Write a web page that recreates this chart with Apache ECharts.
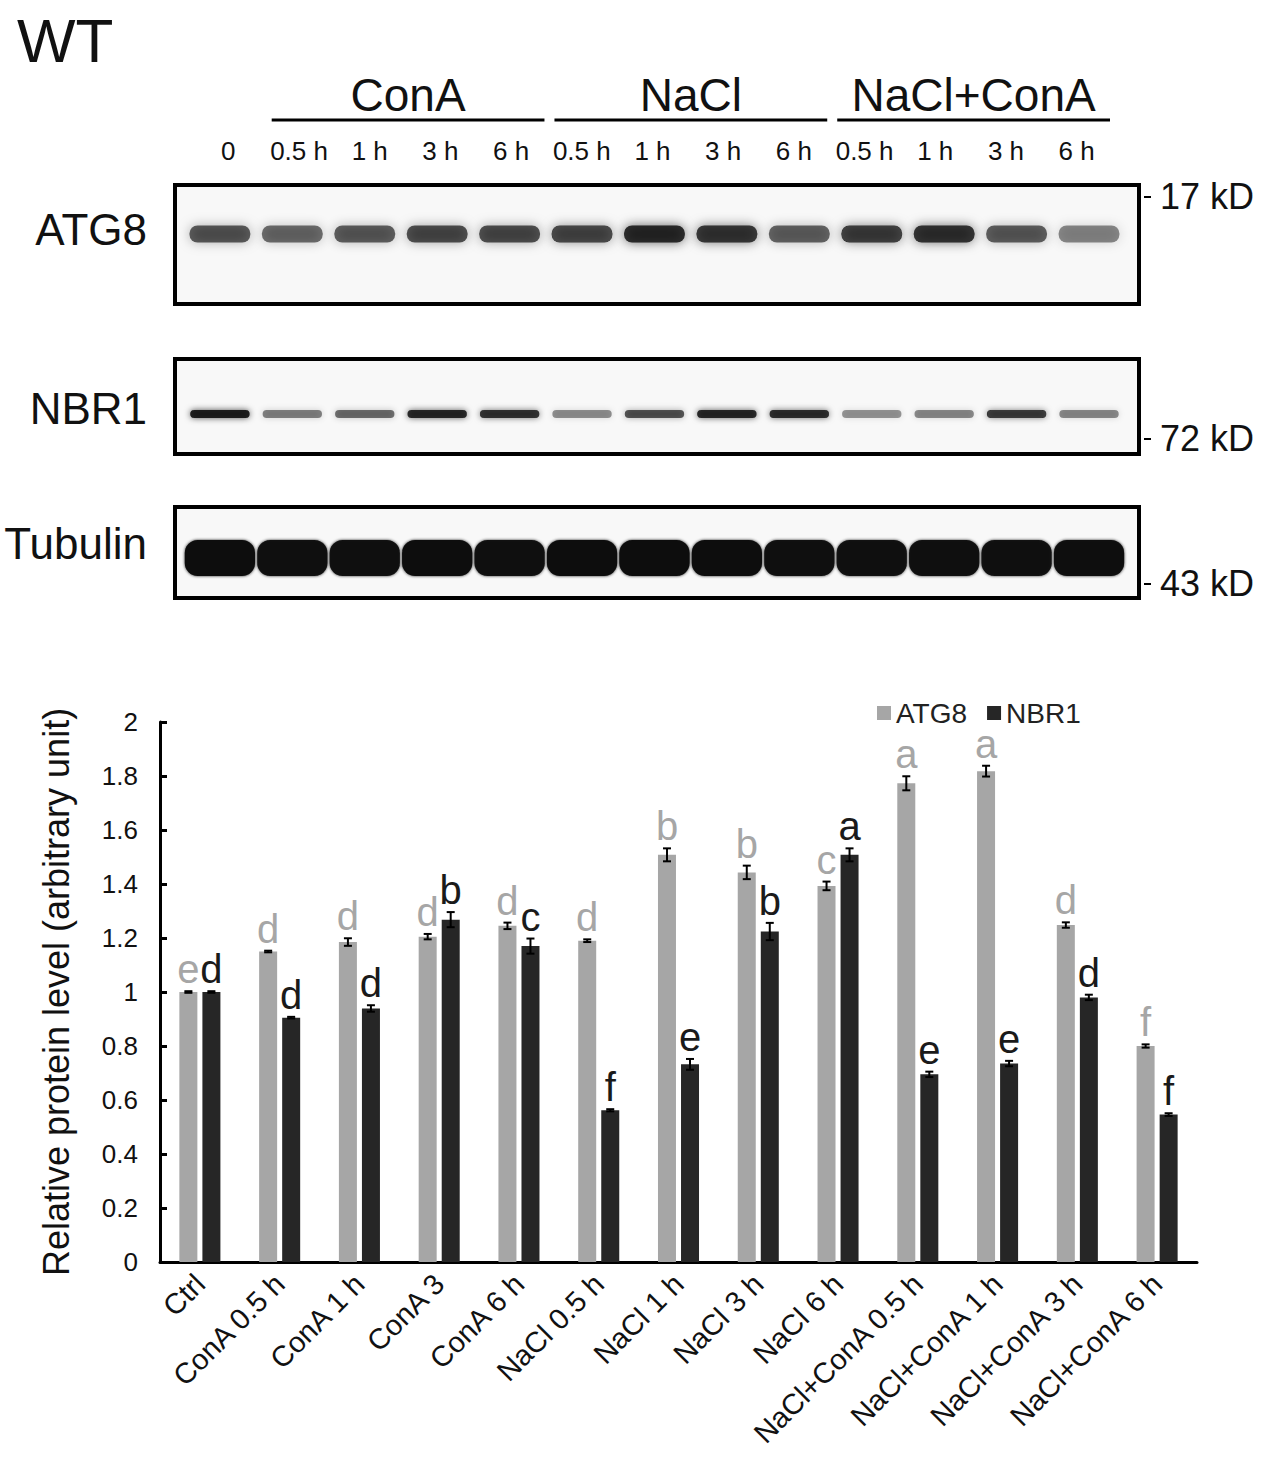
<!DOCTYPE html>
<html lang="en">
<head>
<meta charset="UTF-8">
<script src="https://cdn.jsdelivr.net/npm/echarts@6/dist/echarts.min.js"></script>
</head>
<body style="margin: 0; background: #fff">
<div id="main" style="width: 1267px; height: 1471px"></div>
<script>
// blot lanes
var laneLabels = ['0', '0.5 h', '1 h', '3 h', '6 h', '0.5 h', '1 h', '3 h', '6 h', '0.5 h', '1 h', '3 h', '6 h'];
var laneGroups = [[1, 4, 'ConA'], [5, 8, 'NaCl'], [9, 12, 'NaCl+ConA']];
// band darkness per lane (0 = none, 1 = black)
var atg8Band = [0.6, 0.53, 0.58, 0.64, 0.64, 0.7, 0.84, 0.78, 0.56, 0.74, 0.8, 0.58, 0.43];
var nbr1Band = [0.9, 0.45, 0.52, 0.85, 0.8, 0.4, 0.62, 0.85, 0.82, 0.38, 0.42, 0.75, 0.42];
var tubulinBand = [1, 0.97, 0.97, 1, 0.97, 1, 1, 1, 0.97, 0.96, 0.97, 0.96, 0.98];
var markers = [['17 kD', 198], ['72 kD', 440], ['43 kD', 585]];

// quantification
var categories = ['Ctrl', 'ConA 0.5 h', 'ConA 1 h', 'ConA 3', 'ConA 6 h', 'NaCl 0.5 h', 'NaCl 1 h',
    'NaCl 3 h', 'NaCl 6 h', 'NaCl+ConA 0.5 h', 'NaCl+ConA 1 h', 'NaCl+ConA 3 h', 'NaCl+ConA 6 h'];
var atg8Mean = [1.0, 1.15, 1.185, 1.205, 1.245, 1.19, 1.508, 1.443, 1.393, 1.773, 1.818, 1.248, 0.80];
var atg8Err = [0.003, 0.003, 0.014, 0.01, 0.012, 0.005, 0.024, 0.025, 0.016, 0.026, 0.02, 0.01, 0.006];
var atg8Letter = ['e', 'd', 'd', 'd', 'd', 'd', 'b', 'b', 'c', 'a', 'a', 'd', 'f'];
var nbr1Mean = [1.0, 0.905, 0.939, 1.268, 1.17, 0.562, 0.732, 1.224, 1.508, 0.695, 0.735, 0.98, 0.546];
var nbr1Err = [0.003, 0.003, 0.012, 0.028, 0.028, 0.004, 0.02, 0.032, 0.024, 0.01, 0.01, 0.01, 0.005];
var nbr1Letter = ['d', 'd', 'd', 'b', 'c', 'f', 'e', 'b', 'a', 'e', 'e', 'd', 'f'];

var GREY = '#a6a6a6', DARK = '#262626';
var FONT = 'Liberation Sans, Arial, sans-serif';

var dom = document.getElementById('main');
var myChart = echarts.init(dom, null, {renderer: 'svg'});

function blotGrid(top, height) {
    return {left: 175, right: 128, top: top, height: height, show: true,
        borderColor: '#000', borderWidth: 4, backgroundColor: '#f8f8f8'};
}
function laneAxis(i) {
    return {type: 'value', gridIndex: i, min: -0.62, max: 12.69, show: false};
}
function hiddenY(i) {
    return {type: 'value', gridIndex: i, min: 0, max: 1, show: false};
}

// one band per lane, drawn at lane position
function bandRenderer(row) {
    return function (params, api) {
        var lane = api.value(0), level = api.value(1);
        var x = api.coord([lane, 0])[0];
        var w = api.size([row.width, 0])[0];
        var cy = params.coordSys.y + row.centre;
        return {
            type: 'rect',
            shape: {x: x - w / 2, y: cy - row.thick / 2, width: w, height: row.thick, r: row.r},
            style: {
                fill: 'rgba(10,10,10,' + level + ')',
                shadowBlur: row.blur,
                shadowColor: 'rgba(0,0,0,' + (level * 0.85) + ')'
            }
        };
    };
}

function errorRenderer(letters, shift, colour) {
    return function (params, api) {
        var i = api.value(0), m = api.value(1), e = api.value(2);
        var top = api.coord([i, m + e]);
        var bot = api.coord([i, m - e]);
        var x = top[0] + shift;
        var ls = {stroke: '#000', lineWidth: 2};
        return {
            type: 'group',
            children: [
                {type: 'line', shape: {x1: x, y1: top[1], x2: x, y2: bot[1]}, style: ls},
                {type: 'line', shape: {x1: x - 4, y1: top[1], x2: x + 4, y2: top[1]}, style: ls},
                {type: 'line', shape: {x1: x - 4, y1: bot[1], x2: x + 4, y2: bot[1]}, style: ls},
                {type: 'text', style: {text: letters[params.dataIndex], x: x, y: top[1] - 2,
                    fill: colour, fontSize: 40, fontFamily: FONT, align: 'center', verticalAlign: 'bottom'}}
            ]
        };
    };
}

function groupRenderer(params, api) {
    var a = api.coord([api.value(0), 0]);
    var b = api.coord([api.value(1), 0]);
    var half = api.size([1, 0])[0] / 2;
    var y = params.coordSys.y + 20;
    var x1 = a[0] - half + 8, x2 = b[0] + half - 2;
    return {
        type: 'group',
        children: [
            {type: 'line', shape: {x1: x1, y1: y, x2: x2, y2: y}, style: {stroke: '#000', lineWidth: 3}},
            {type: 'text', style: {text: laneGroups[params.dataIndex][2], x: (x1 + x2) / 2, y: y - 2,
                fill: '#111', fontSize: 46, fontFamily: FONT, align: 'center', verticalAlign: 'bottom'}}
        ]
    };
}

var rows = {
    atg8: {centre: 49, thick: 17, width: 0.84, blur: 12, r: 8},
    nbr1: {centre: 55, thick: 8, width: 0.82, blur: 6, r: 4},
    tubulin: {centre: 51, thick: 36, width: 0.97, blur: 3, r: 13}
};

var rowLabels = [['ATG8', 232], ['NBR1', 411], ['Tubulin', 546]];
var graphics = [];
rowLabels.forEach(function (r) {
    graphics.push({type: 'text', right: 1267 - 147, top: r[1] - 25,
        style: {text: r[0], fontSize: 44, fontFamily: FONT, fill: '#111'}});
});
markers.forEach(function (m) {
    graphics.push({type: 'line', shape: {x1: 1144, y1: m[1] - 1, x2: 1151, y2: m[1] - 1},
        style: {stroke: '#000', lineWidth: 2}});
    graphics.push({type: 'text', left: 1160, top: m[1] - 20,
        style: {text: m[0], fontSize: 36, fontFamily: FONT, fill: '#111'}});
});

function indexed(arr) {
    return arr.map(function (v, i) { return [i, v]; });
}

var option = {
    backgroundColor: '#fff',
    animation: false,
    title: {
        text: 'WT', left: 12, top: 4,
        textStyle: {fontSize: 62, fontWeight: 'normal', color: '#111', fontFamily: FONT}
    },
    legend: {
        data: ['ATG8', 'NBR1'], left: 872, top: 694, icon: 'rect',
        itemWidth: 14, itemHeight: 14, itemGap: 20,
        textStyle: {fontSize: 28, color: '#222', fontFamily: FONT}
    },
    graphic: graphics,
    grid: [
        {left: 160, right: 70, top: 722, bottom: 209},
        blotGrid(185, 119),
        blotGrid(359, 95),
        blotGrid(507, 91),
        {left: 193, right: 155, top: 100, height: 36}
    ],
    xAxis: [
        {
            type: 'category', gridIndex: 0, data: categories,
            axisLine: {lineStyle: {color: '#000', width: 3}},
            axisTick: {inside: true, length: 8, lineStyle: {color: '#000', width: 3}},
            axisLabel: {rotate: 45, interval: 0, margin: 17, fontSize: 29, color: '#111', fontFamily: FONT}
        },
        laneAxis(1), laneAxis(2), laneAxis(3),
        {
            type: 'category', gridIndex: 4, data: laneLabels,
            axisLine: {show: false}, axisTick: {show: false},
            axisLabel: {interval: 0, margin: 2, fontSize: 26, color: '#111', fontFamily: FONT}
        }
    ],
    yAxis: [
        {
            type: 'value', gridIndex: 0, min: 0, max: 2, interval: 0.2,
            name: 'Relative protein level (arbitrary unit)', nameLocation: 'middle', nameGap: 86,
            nameTextStyle: {fontSize: 36, color: '#111', fontFamily: FONT},
            splitLine: {show: false},
            axisLine: {show: true, lineStyle: {color: '#000', width: 3}},
            axisTick: {show: true, inside: true, length: 7, lineStyle: {color: '#000', width: 3}},
            axisLabel: {margin: 22, fontSize: 26, color: '#111', fontFamily: FONT}
        },
        hiddenY(1), hiddenY(2), hiddenY(3), hiddenY(4)
    ],
    series: [
        {
            name: 'ATG8', type: 'bar', xAxisIndex: 0, yAxisIndex: 0,
            data: atg8Mean, barWidth: 18, barGap: '28%', itemStyle: {color: GREY}
        },
        {
            name: 'NBR1', type: 'bar', xAxisIndex: 0, yAxisIndex: 0,
            data: nbr1Mean, barWidth: 18, barGap: '28%', itemStyle: {color: DARK}
        },
        {
            type: 'custom', xAxisIndex: 0, yAxisIndex: 0, z: 5,
            renderItem: errorRenderer(atg8Letter, -11.5, GREY),
            data: atg8Mean.map(function (v, i) { return [i, v, atg8Err[i]]; })
        },
        {
            type: 'custom', xAxisIndex: 0, yAxisIndex: 0, z: 5,
            renderItem: errorRenderer(nbr1Letter, 11.5, '#1a1a1a'),
            data: nbr1Mean.map(function (v, i) { return [i, v, nbr1Err[i]]; })
        },
        {type: 'custom', xAxisIndex: 1, yAxisIndex: 1, renderItem: bandRenderer(rows.atg8), data: indexed(atg8Band)},
        {type: 'custom', xAxisIndex: 2, yAxisIndex: 2, renderItem: bandRenderer(rows.nbr1), data: indexed(nbr1Band)},
        {type: 'custom', xAxisIndex: 3, yAxisIndex: 3, renderItem: bandRenderer(rows.tubulin), data: indexed(tubulinBand)},
        {type: 'custom', xAxisIndex: 4, yAxisIndex: 4, renderItem: groupRenderer, data: laneGroups.map(function (g) { return [g[0], g[1]]; })}
    ]
};

myChart.setOption(option);
</script>
</body>
</html>
